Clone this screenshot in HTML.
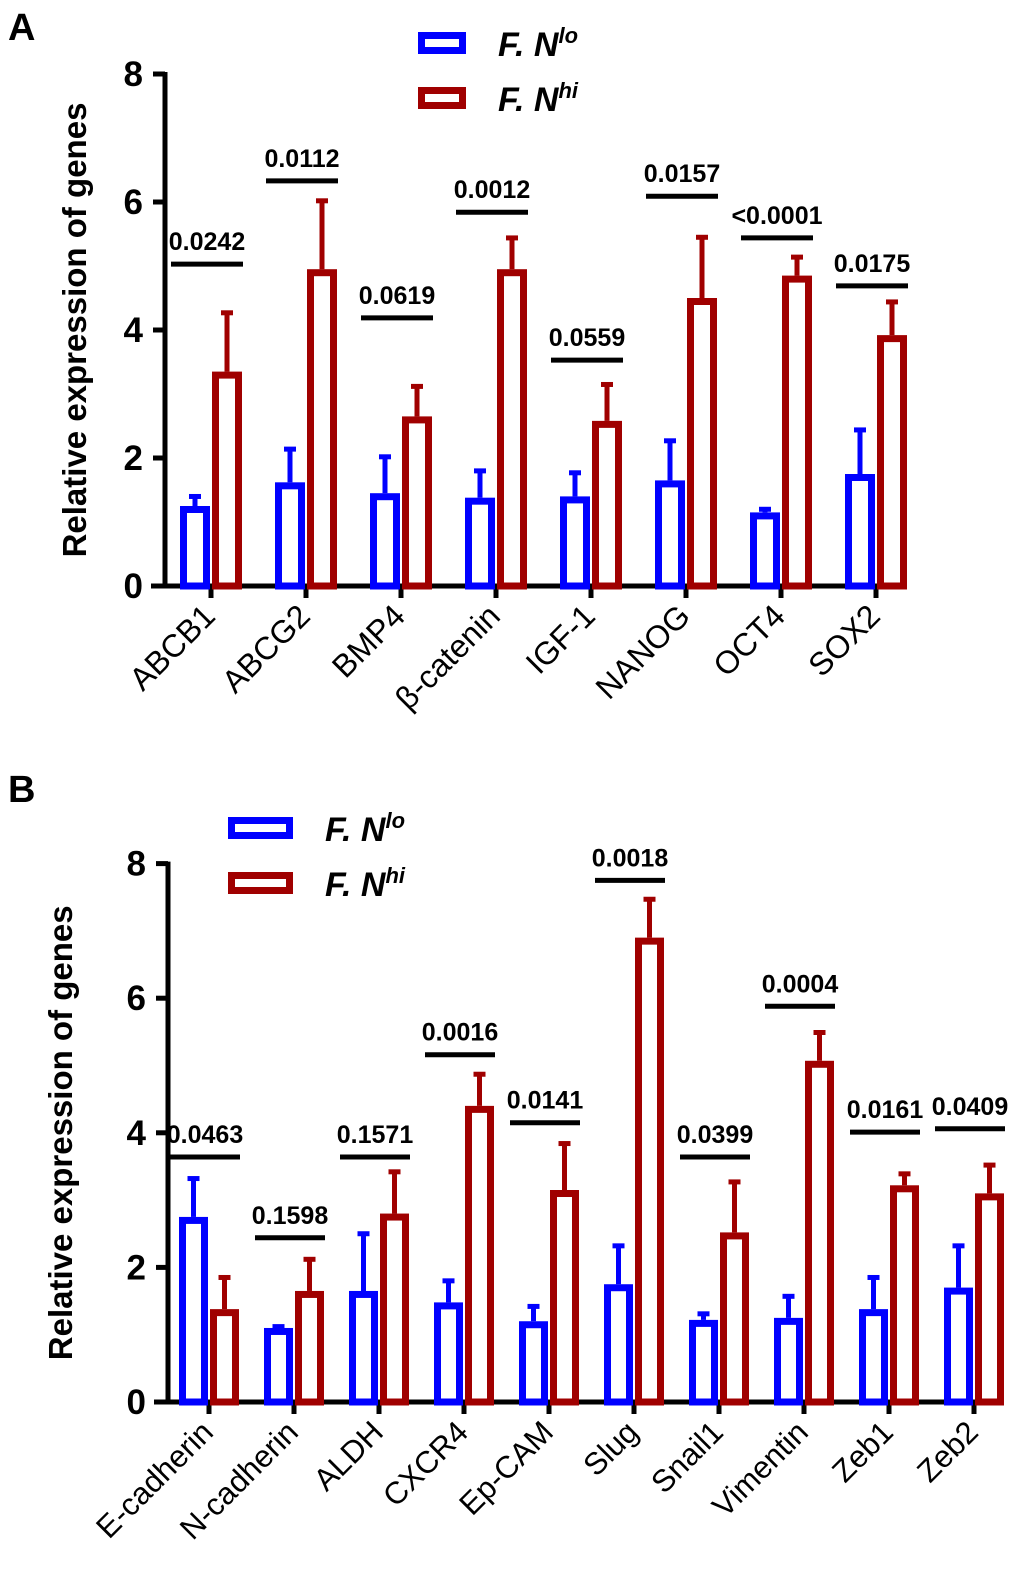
<!DOCTYPE html>
<html><head><meta charset="utf-8"><style>
body{margin:0;background:#fff}
svg{display:block;font-family:"Liberation Sans",Arial,sans-serif}
</style></head><body>
<svg id="s" width="1020" height="1575" viewBox="0 0 1020 1575"></svg>
<script>
const catsA=["ABCB1","ABCG2","BMP4","β-catenin","IGF-1","NANOG","OCT4","SOX2"];
const loA=[1.25,1.62,1.45,1.38,1.4,1.65,1.15,1.75];
const loErrA=[0.18,0.55,0.6,0.45,0.4,0.65,0.08,0.72];
const hiA=[3.35,4.95,2.65,4.95,2.58,4.5,4.85,3.92];
const hiErrA=[0.95,1.1,0.5,0.52,0.6,0.98,0.32,0.55];
const pA=["0.0242","0.0112","0.0619","0.0012","0.0559","0.0157","<0.0001","0.0175"];
const pLineA=[5.03,6.33,4.19,5.84,3.53,6.09,5.44,4.69];
const catsB=["E-cadherin","N-cadherin","ALDH","CXCR4","Ep-CAM","Slug","Snail1","Vimentin","Zeb1","Zeb2"];
const loB=[2.75,1.1,1.65,1.48,1.2,1.75,1.22,1.25,1.38,1.7];
const loErrB=[0.6,0.05,0.88,0.35,0.25,0.6,0.12,0.35,0.5,0.65];
const hiB=[1.38,1.65,2.8,4.4,3.15,6.9,2.52,5.07,3.22,3.1];
const hiErrB=[0.5,0.5,0.65,0.5,0.72,0.6,0.78,0.45,0.2,0.45];
const pB=["0.0463","0.1598","0.1571","0.0016","0.0141","0.0018","0.0399","0.0004","0.0161","0.0409"];
const pLineB=[3.64,2.44,3.64,5.16,4.15,7.75,3.64,5.88,4.01,4.06];
const yTicks=[0,2,4,6,8];

const svg=document.getElementById('s');
const NS="http://www.w3.org/2000/svg";
function mk(tag,attrs,parent){const e=document.createElementNS(NS,tag);for(const k in attrs)e.setAttribute(k,attrs[k]);(parent||svg).appendChild(e);return e;}
const BLUE="#0000ff",RED="#a00000";

function panel(cfg){
  const g=mk('g',{});
  
  
  const y=v=>cfg.y0-v*cfg.ppu;
  const x=i=>cfg.x0+i*cfg.step;
  const L=mk('text',{x:8,y:cfg.letterY,'font-size':38,'font-weight':'bold'},g);L.textContent=cfg.letter;
  
  
  const ya=mk('line',{x1:cfg.ax,y1:y(8)-2,x2:cfg.ax,y2:cfg.y0+2,stroke:'#000','stroke-width':5},g);
  
  
  const xa=mk('line',{x1:cfg.ax-14,y1:cfg.y0,x2:cfg.axEnd,y2:cfg.y0,stroke:'#000','stroke-width':5},g);
  
  
  yTicks.forEach(t=>{
    mk('line',{x1:cfg.ax-12,y1:y(t),x2:cfg.ax,y2:y(t),stroke:'#000','stroke-width':5},g);
    const tl=mk('text',{x:cfg.ax-22,y:y(t)+12,'font-size':35,'font-weight':'bold','text-anchor':'end'},g);
    tl.textContent=t;
    
    
  });
  const yt=mk('text',{x:0,y:0,'font-size':33,'font-weight':'bold','text-anchor':'middle',transform:`translate(${cfg.titleX},${y(4)}) rotate(-90)`},g);
  yt.textContent="Relative expression of genes";
  
  
  const bw=cfg.bw,sw=7;
  function bar(cx,v,e,col,nm){
    const top=y(v);
    mk('line',{x1:cx,y1:top,x2:cx,y2:y(v+e),stroke:col,'stroke-width':5},g);
    mk('line',{x1:cx-6,y1:y(v+e)+2,x2:cx+6,y2:y(v+e)+2,stroke:col,'stroke-width':5},g);
    const r=mk('rect',{x:cx-bw/2+sw/2,y:top+sw/2,width:bw-sw,height:cfg.y0-top-sw/2,fill:'#fff',stroke:col,'stroke-width':sw},g);
    
    
  }
  cfg.cats.forEach((c,i)=>{
    const cx=x(i);
    mk('line',{x1:cx,y1:cfg.y0,x2:cx,y2:cfg.y0+12,stroke:'#000','stroke-width':5},g);
    bar(cx-bw/2-1,cfg.lo[i],cfg.loE[i],BLUE,'bar-lo');
    bar(cx+bw/2+1,cfg.hi[i],cfg.hiE[i],RED,'bar-hi');
    const py=y(cfg.pl[i]);
    const pl=mk('line',{x1:cx-bw-10,y1:py,x2:cx+bw+2,y2:py,stroke:'#000','stroke-width':5},g);
    
    
    const pt=mk('text',{x:cx-4,y:py-14,'font-size':25,'font-weight':'bold','text-anchor':'middle'},g);
    pt.textContent=cfg.p[i];
    
    
    const xl=mk('text',{x:0,y:0,'font-size':cfg.xfs,'text-anchor':'end',transform:`translate(${cx+6},${cfg.y0+32}) rotate(-45)`},g);
    xl.textContent=c;
    
    
  });
  [[BLUE,'lo',cfg.legY],[RED,'hi',cfg.legY+55]].forEach(([col,sup,ly])=>{
    const r=mk('rect',{x:cfg.legX+3.5,y:ly-10+3.5,width:cfg.legW-7,height:15,fill:'#fff',stroke:col,'stroke-width':7},g);
    
    
    const t=mk('text',{x:cfg.legX+cfg.legW+32,y:ly+14,'font-size':34,'font-weight':'bold','font-style':'italic'},g);
    t.innerHTML=`F. N<tspan font-size="22" dy="-13">${sup}</tspan>`;
    
    
  });
}
panel({name:'panel-a',letter:'A',letterY:40,cats:catsA,lo:loA,loE:loErrA,hi:hiA,hiE:hiErrA,p:pA,pl:pLineA,
  y0:586,ppu:64,ax:165,axEnd:905,x0:211,step:95,bw:30,titleX:86,legX:418,legW:48,legY:42,xfs:32});
panel({name:'panel-b',letter:'B',letterY:802,cats:catsB,lo:loB,loE:loErrB,hi:hiB,hiE:hiErrB,p:pB,pl:pLineB,
  y0:1402,ppu:67.3,ax:168,axEnd:995,x0:209,step:85,bw:29,titleX:72,legX:228,legW:65,legY:827,xfs:31});
</script>
</body></html>
